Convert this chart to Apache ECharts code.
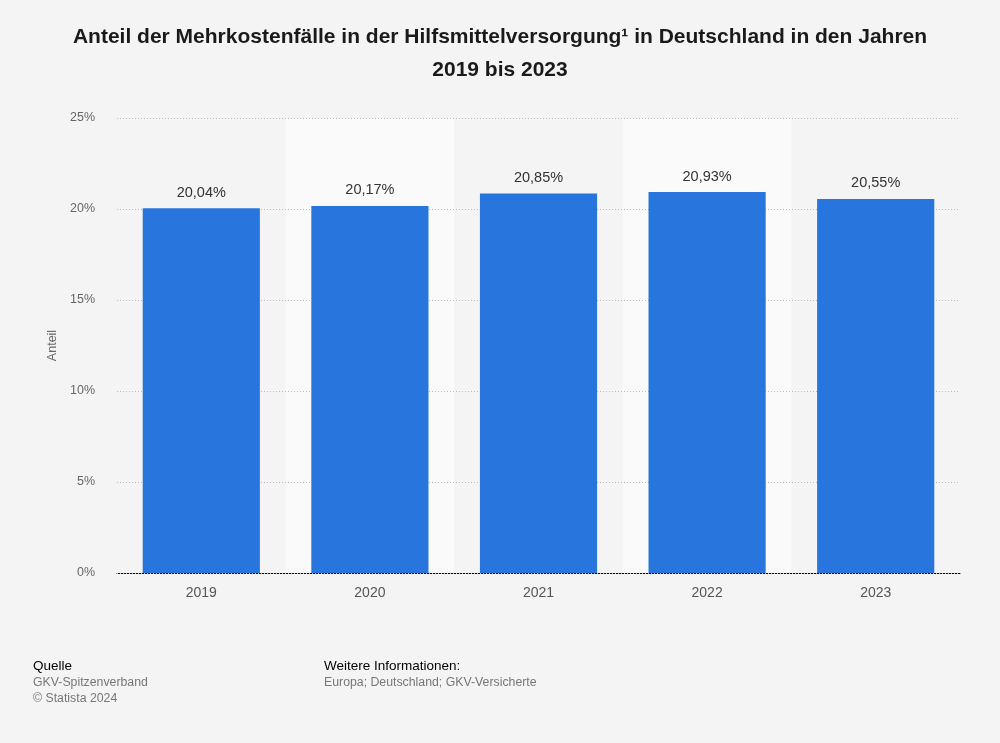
<!DOCTYPE html>
<html><head><meta charset="utf-8">
<script src="https://cdn.jsdelivr.net/npm/echarts@6/dist/echarts.min.js"></script>
<style>html,body{margin:0;padding:0;background:#f4f4f4;}#c{width:1000px;height:743px;}</style>
</head><body><div id="c"></div>
<script>
const categories = ['2019','2020','2021','2022','2023'];
const values = [20.04, 20.17, 20.85, 20.93, 20.55];
const yTicks = [0, 5, 10, 15, 20, 25];

const chart = echarts.init(document.getElementById('c'), null, {renderer:'canvas'});
const F = 'Liberation Sans, Arial, sans-serif';
chart.setOption({
  backgroundColor: '#f4f4f4',
  textStyle: {fontFamily: F},
  title: {
    text: 'Anteil der Mehrkostenfälle in der Hilfsmittelversorgung¹ in Deutschland in den Jahren\n2019 bis 2023',
    left: 'center', top: 16,
    textStyle: {fontFamily: F, fontSize: 21, fontWeight: 'bold', color: '#1a1a1a', lineHeight: 33}
  },
  grid: {left: 117, right: 40, top: 118, bottom: 170},
  xAxis: {
    type: 'category', data: categories, z: -1,
    axisLine: {lineStyle: {color: '#000', width: 1}},
    axisTick: {show: false},
    axisLabel: {color: '#555', fontSize: 14, margin: 13, fontFamily: F},
    splitArea: {show: true, areaStyle: {color: ['rgba(0,0,0,0)', '#fafafa']}}
  },
  yAxis: {
    type: 'value', min: yTicks[0], max: yTicks[yTicks.length-1], interval: 5,
    name: 'Anteil', nameLocation: 'middle', nameGap: 58, nameRotate: 90,
    nameTextStyle: {color: '#666', fontSize: 12.5, fontFamily: F},
    axisLine: {show: false}, axisTick: {show: false},
    axisLabel: {color: '#666', fontSize: 12.5, margin: 22, formatter: v => v + '%', fontFamily: F},
    splitLine: {lineStyle: {color: '#bbb', type: [1, 2], width: 1}}
  },
  series: [{
    type: 'bar', data: values, barWidth: '69.5%', z: 2,
    itemStyle: {color: '#2876dd'},
    label: {show: true, position: 'top', distance: 8, color: '#333', fontSize: 14.5, fontFamily: F,
      formatter: p => p.value.toFixed(2).replace('.', ',') + '%'}
  }],
  graphic: [
    {type: 'text', left: 33, top: 659, style: {text: 'Quelle', fill: '#000', font: '13.5px ' + F}},
    {type: 'text', left: 33, top: 675, style: {text: 'GKV-Spitzenverband\n© Statista 2024', fill: '#777', font: '12.3px ' + F, lineHeight: 16}},
    {type: 'text', left: 324, top: 659, style: {text: 'Weitere Informationen:', fill: '#000', font: '13.5px ' + F}},
    {type: 'text', left: 324, top: 677, style: {text: 'Europa; Deutschland; GKV-Versicherte', fill: '#777', font: '12.3px ' + F}}
  ]
});
</script></body></html>
